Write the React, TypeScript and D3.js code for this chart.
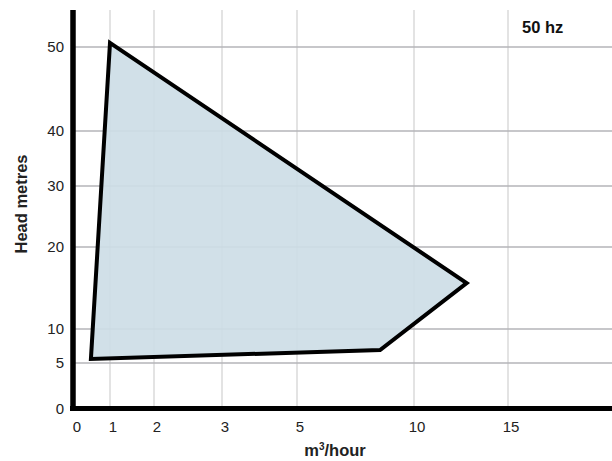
import React from "react";
import * as d3 from "d3";

const xTicks = [0, 1, 2, 3, 5, 10, 15];
const yTicks = [0, 5, 10, 20, 30, 40, 50];
const envelopeFlow = [1, 12.8, 8.55, 0.47];
const envelopeHead = [50.5, 15.6, 6.9, 5.6];

const W = 612;
const H = 461;

export default function App() {
  const x = d3.scaleLinear().domain(xTicks).range([74, 110, 154, 222, 297, 414, 508]);
  const y = d3.scaleLinear().domain(yTicks).range([409, 363, 329, 247, 186, 131, 47]);
  const pts: [number, number][] = envelopeFlow.map((f, i) => [x(f), y(envelopeHead[i])]);
  const line = d3.line().curve(d3.curveLinearClosed);
  const font = "Liberation Sans, Arial, Helvetica, sans-serif";
  return (
    <svg width={W} height={H} style={{ position: "absolute", left: 0, top: 0, background: "#fff" }}>
      {xTicks.slice(1).map((t) => (
        <line key={"vx" + t} x1={x(t)} x2={x(t)} y1={10} y2={409} stroke="#d4d4d4" strokeWidth={1.3} />
      ))}
      {yTicks.slice(1).map((t) => (
        <line key={"hy" + t} x1={74} x2={W} y1={y(t)} y2={y(t)} stroke="#b4b4b8" strokeWidth={1.3} />
      ))}
      <path d={line(pts) || ""} fill="#cddde6" fillOpacity={0.92} stroke="#000" strokeWidth={4} strokeLinejoin="miter" />
      <line x1={73} x2={73} y1={10} y2={411} stroke="#000" strokeWidth={5.5} />
      <line x1={70} x2={W} y1={408.5} y2={408.5} stroke="#000" strokeWidth={5} />
      {yTicks.map((t) => (
        <text key={"yl" + t} x={64} y={y(t)} dy="0.36em" textAnchor="end" fontFamily={font} fontSize={15} fill="#222">
          {t}
        </text>
      ))}
      {xTicks.map((t) => (
        <text key={"xl" + t} x={x(t) + 3} y={431.5} textAnchor="middle" fontFamily={font} fontSize={15} fill="#222">
          {t}
        </text>
      ))}
      <text x={335} y={455.5} textAnchor="middle" fontFamily={font} fontSize={16.5} fontWeight="bold" fill="#222">
        m<tspan dy={-6} fontSize={10}>3</tspan><tspan dy={6}>/hour</tspan>
      </text>
      <text transform="translate(27,204) rotate(-90)" textAnchor="middle" fontFamily={font} fontSize={16.5} fontWeight="bold" fill="#222">
        Head metres
      </text>
      <text x={522} y={33} fontFamily={font} fontSize={16.5} fontWeight="bold" fill="#111">
        50 hz
      </text>
    </svg>
  );
}
